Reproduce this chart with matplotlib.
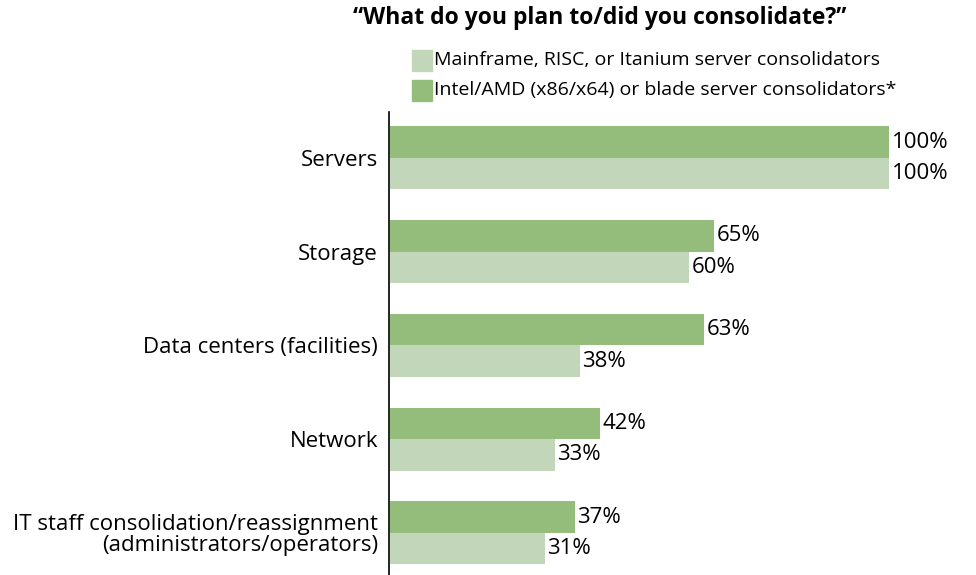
import matplotlib
matplotlib.use("Agg")
import matplotlib.pyplot as plt
from matplotlib.patches import Rectangle

categories = ["Servers", "Storage", "Data centers (facilities)", "Network",
              "IT staff consolidation/reassignment\n(administrators/operators)"]
intel_vals = [100, 65, 63, 42, 37]
mainframe_vals = [100, 60, 38, 33, 31]
series_names = ["Mainframe, RISC, or Itanium server consolidators",
                "Intel/AMD (x86/x64) or blade server consolidators*"]
title = "\u201cWhat do you plan to/did you consolidate?\u201d"

dark = "#94bd7c"
light = "#c2d6b9"
FONT = ["Open Sans", "DejaVu Sans"]
plt.rcParams['font.family'] = FONT
LAB = 16
LEG = 14
TIT = 16.5

W, H = 976, 575
fig = plt.figure(figsize=(W / 100, H / 100), dpi=100)
ax = fig.add_axes([389 / W, 0, (889 - 389) / W, (575 - 112) / H])

h = 0.336
ypos = list(range(len(categories)))
ax.barh([y - h / 2 for y in ypos], intel_vals, height=h, color=dark, left=0.2)
ax.barh([y + h / 2 for y in ypos], mainframe_vals, height=h, color=light, left=0.2)
ax.set_xlim(0, 100.2)
ax.set_ylim(4.45, -0.49)

for y, v in zip(ypos, intel_vals):
    ax.text(v + 0.2 + 0.5, y - h / 2, f"{v}%", va="center", ha="left", fontsize=LAB)
for y, v in zip(ypos, mainframe_vals):
    ax.text(v + 0.2 + 0.5, y + h / 2, f"{v}%", va="center", ha="left", fontsize=LAB)

ax.set_yticks(ypos)
ax.set_yticklabels(categories, fontsize=LAB, ha="right", multialignment="right",
                   linespacing=1.0)
ax.tick_params(axis="y", length=0, pad=8)
ax.set_xticks([])
for s in ["top", "right", "bottom"]:
    ax.spines[s].set_visible(False)
ax.spines["left"].set_linewidth(1.2)
ax.spines["left"].set_color("black")
ax.patch.set_alpha(0)

fig.text(600 / W, 1 - 18 / H, title, ha="center", va="center", fontsize=TIT,
         fontweight="bold")

# legend
for i, (name, col) in enumerate(zip(series_names, [light, dark])):
    top = 50 + 30 * i
    fig.patches.append(Rectangle((412 / W, 1 - (top + 21) / H), 20 / W, 21 / H,
                                 transform=fig.transFigure, color=col))
    fig.text(434 / W, 1 - (top + 10) / H, name, ha="left", va="center", fontsize=LEG)

fig.savefig("out.png", dpi=100)
